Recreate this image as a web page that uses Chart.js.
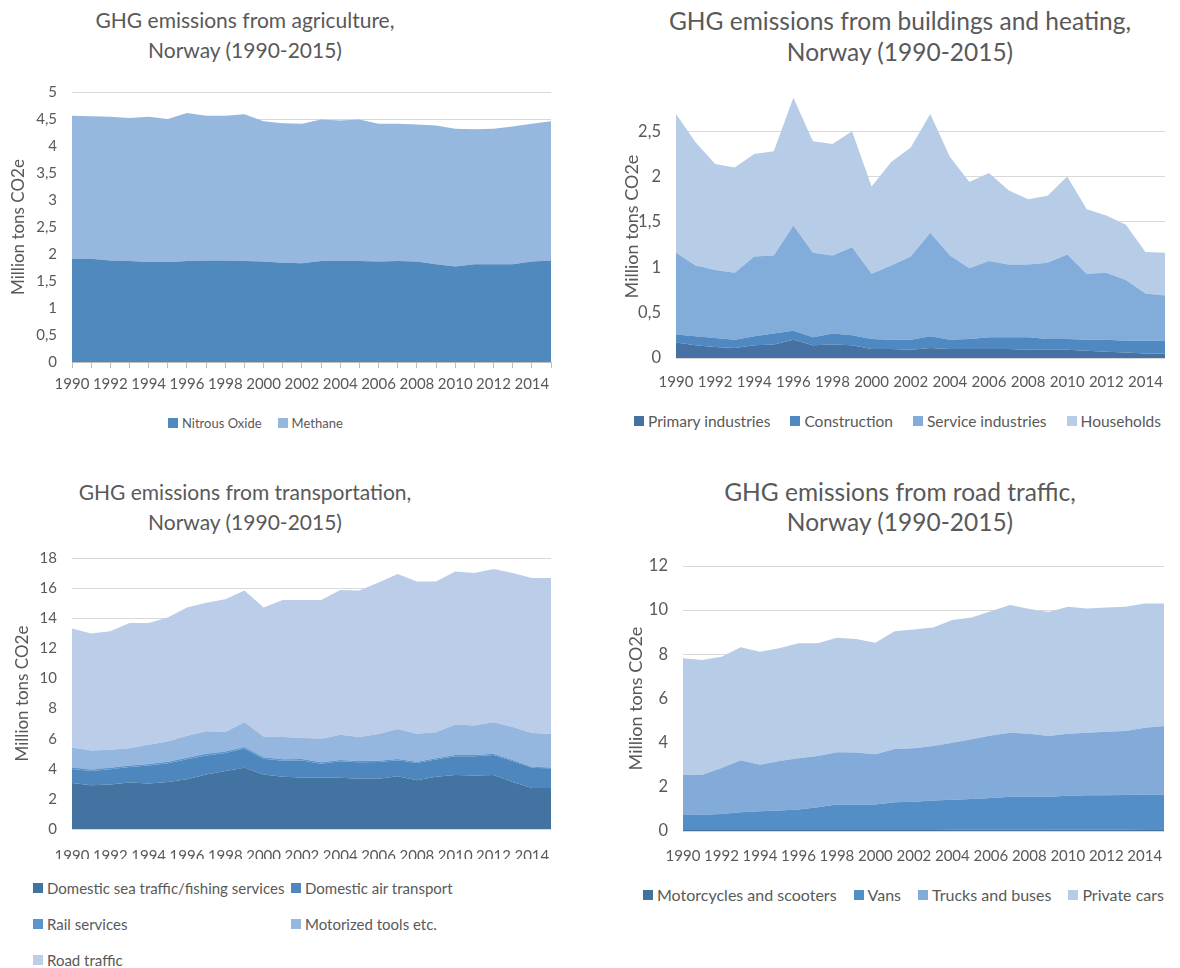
<!DOCTYPE html>
<html>
<head>
<meta charset="utf-8">
<title>GHG emissions, Norway (1990-2015)</title>
<script src="https://cdn.jsdelivr.net/npm/chart.js@4.4.1/dist/chart.umd.min.js"></script>
<style>
  html, body { margin: 0; padding: 0; background: #fff; }
  body { position: relative; width: 1180px; height: 968px; overflow: hidden; font-family: Lato, "Open Sans", sans-serif; }
  .panel { position: absolute; }
  .title { position: absolute; text-align: center; color: #595959; white-space: nowrap; line-height: 30px; }
  .legend { position: absolute; display: flex; color: #595959; white-space: nowrap; line-height: 18px; }
  .legend .item { display: flex; align-items: center; }
  .legend .swatch { width: 10px; height: 10px; margin-right: 4px; flex: none; }
  .legend.grid { display: grid; grid-template-columns: 258px auto; row-gap: 18px; }
</style>
</head>
<body>

<div class="title" style="left:0;top:5px;width:490px;font-size:21px">GHG emissions from agriculture,<br>Norway (1990-2015)</div>
<div class="panel" style="left:0;top:0;width:590px;height:392px"><canvas id="agriChart"></canvas></div>
<div class="legend" id="agriLegend" style="left:168px;top:414px;font-size:13px"></div>

<div class="title" style="left:650px;top:5px;width:500px;font-size:24.5px;line-height:31px">GHG emissions from buildings and heating,<br>Norway (1990-2015)</div>
<div class="panel" style="left:590px;top:0;width:590px;height:388px"><canvas id="buildChart"></canvas></div>
<div class="legend" id="buildLegend" style="left:634px;top:412px;font-size:15.5px"></div>

<div class="title" style="left:0;top:477px;width:490px;font-size:21px">GHG emissions from transportation,<br>Norway (1990-2015)</div>
<div class="panel" style="left:0;top:470px;width:590px;height:389px"><canvas id="transChart"></canvas></div>
<div class="legend grid" id="transLegend" style="left:33px;top:879px;font-size:15px"></div>

<div class="title" style="left:650px;top:477px;width:500px;font-size:24.5px">GHG emissions from road traffic,<br>Norway (1990-2015)</div>
<div class="panel" style="left:590px;top:470px;width:590px;height:391px"><canvas id="roadChart"></canvas></div>
<div class="legend" id="roadLegend" style="left:643px;top:886px;font-size:16px"></div>

<script>
// Years on the category axis (every other one gets a label)
const years = ['1990', '1991', '1992', '1993', '1994', '1995', '1996', '1997', '1998', '1999',
  '2000', '2001', '2002', '2003', '2004', '2005', '2006', '2007', '2008', '2009',
  '2010', '2011', '2012', '2013', '2014', '2015'];

// Agriculture (million tons CO2e)
const nitrousOxide = [1.91, 1.91, 1.88, 1.87, 1.85, 1.85, 1.87, 1.88, 1.88, 1.87, 1.86, 1.84, 1.83,
  1.87, 1.87, 1.87, 1.86, 1.87, 1.86, 1.81, 1.77, 1.81, 1.81, 1.81, 1.86, 1.88];
const methane = [2.65, 2.64, 2.66, 2.65, 2.69, 2.65, 2.74, 2.68, 2.68, 2.72, 2.60, 2.58, 2.58,
  2.62, 2.60, 2.62, 2.55, 2.54, 2.54, 2.57, 2.55, 2.50, 2.51, 2.55, 2.55, 2.58];

// Buildings and heating
const primaryIndustries = [0.17, 0.14, 0.12, 0.11, 0.14, 0.15, 0.20, 0.14, 0.15, 0.14, 0.10, 0.10, 0.09,
  0.11, 0.10, 0.10, 0.10, 0.10, 0.09, 0.09, 0.09, 0.08, 0.07, 0.06, 0.05, 0.05];
const construction = [0.09, 0.10, 0.10, 0.09, 0.10, 0.12, 0.10, 0.09, 0.12, 0.11, 0.11, 0.10, 0.11,
  0.13, 0.10, 0.11, 0.13, 0.13, 0.14, 0.12, 0.12, 0.12, 0.13, 0.13, 0.14, 0.14];
const serviceIndustries = [0.90, 0.78, 0.75, 0.74, 0.88, 0.86, 1.16, 0.93, 0.86, 0.97, 0.72, 0.82, 0.92,
  1.14, 0.93, 0.78, 0.84, 0.80, 0.80, 0.84, 0.93, 0.73, 0.74, 0.67, 0.52, 0.50];
const households = [1.53, 1.36, 1.17, 1.16, 1.13, 1.15, 1.41, 1.23, 1.23, 1.28, 0.96, 1.14, 1.20,
  1.31, 1.09, 0.95, 0.97, 0.82, 0.72, 0.74, 0.86, 0.71, 0.63, 0.61, 0.46, 0.47];

// Transportation
const seaTraffic = [3.06, 2.91, 2.95, 3.09, 3.02, 3.13, 3.31, 3.62, 3.85, 4.07, 3.62, 3.47, 3.42,
  3.42, 3.40, 3.33, 3.33, 3.51, 3.24, 3.47, 3.58, 3.56, 3.58, 3.13, 2.73, 2.73];
const airTransport = [0.93, 0.95, 1.02, 1.02, 1.20, 1.24, 1.33, 1.27, 1.20, 1.27, 1.05, 1.06, 1.13,
  0.92, 1.10, 1.10, 1.12, 1.05, 1.14, 1.15, 1.26, 1.28, 1.33, 1.38, 1.34, 1.29];
const railServices = [0.10, 0.10, 0.10, 0.10, 0.10, 0.10, 0.10, 0.10, 0.10, 0.10, 0.10, 0.10, 0.10,
  0.09, 0.09, 0.09, 0.09, 0.09, 0.09, 0.08, 0.08, 0.08, 0.08, 0.08, 0.07, 0.07];
const motorizedTools = [1.32, 1.25, 1.19, 1.16, 1.27, 1.35, 1.46, 1.50, 1.29, 1.65, 1.38, 1.48, 1.39,
  1.54, 1.67, 1.59, 1.77, 1.99, 1.86, 1.72, 2.02, 1.95, 2.10, 2.19, 2.24, 2.22];
const roadTraffic = [7.90, 7.77, 7.87, 8.32, 8.10, 8.23, 8.52, 8.54, 8.82, 8.75, 8.57, 9.10, 9.17,
  9.24, 9.62, 9.73, 10.07, 10.29, 10.11, 10.02, 10.17, 10.13, 10.18, 10.22, 10.29, 10.36];

// Road traffic
const motorcycles = [0.05, 0.05, 0.05, 0.05, 0.05, 0.05, 0.05, 0.05, 0.05, 0.05, 0.05, 0.05, 0.05,
  0.05, 0.06, 0.06, 0.06, 0.06, 0.06, 0.06, 0.07, 0.07, 0.07, 0.07, 0.08, 0.08];
const vans = [0.67, 0.69, 0.72, 0.80, 0.85, 0.88, 0.92, 1.03, 1.15, 1.15, 1.15, 1.25, 1.28,
  1.33, 1.36, 1.39, 1.44, 1.49, 1.49, 1.49, 1.53, 1.55, 1.55, 1.56, 1.57, 1.57];
const trucksBuses = [1.83, 1.81, 2.08, 2.35, 2.10, 2.24, 2.33, 2.32, 2.37, 2.35, 2.28, 2.41, 2.42,
  2.47, 2.58, 2.70, 2.83, 2.90, 2.85, 2.75, 2.80, 2.83, 2.88, 2.90, 3.03, 3.10];
const privateCars = [5.27, 5.19, 5.04, 5.12, 5.12, 5.10, 5.20, 5.10, 5.18, 5.14, 5.05, 5.34, 5.38,
  5.37, 5.55, 5.52, 5.62, 5.78, 5.65, 5.62, 5.75, 5.63, 5.62, 5.62, 5.62, 5.55];

const TEXT = '#595959';
const FONT = 'Lato, "Open Sans", sans-serif';

Chart.defaults.font.family = FONT;
Chart.defaults.color = TEXT;

// Decimal comma, as in the Norwegian originals
const commaTick = (v) => String(Number(v.toFixed(1))).replace('.', ',');

function buildStackedArea(canvasId, series, opts) {
  const ctx = document.getElementById(canvasId).getContext('2d');
  const datasets = series.map((s, i) => ({
    label: s.label,
    data: s.data,
    backgroundColor: s.color,
    borderColor: s.color,
    borderWidth: 0,
    pointRadius: 0,
    pointHoverRadius: 0,
    tension: 0,
    fill: i === 0 ? 'origin' : '-1'
  }));

  return new Chart(ctx, {
    type: 'line',
    data: { labels: years, datasets },
    options: {
      responsive: true,
      maintainAspectRatio: false,
      animation: false,
      layout: { padding: opts.padding },
      plugins: {
        legend: { display: false },
        tooltip: { enabled: false }
      },
      scales: {
        x: {
          offset: false,
          afterFit: (scale) => { scale.height = 30; },
          grid: {
            display: opts.xTicks,
            drawOnChartArea: false,
            drawTicks: opts.xTicks,
            tickLength: 6,
            color: '#bfbfbf'
          },
          border: { display: opts.xTicks, color: '#bfbfbf' },
          ticks: {
            autoSkip: false,
            maxRotation: 0,
            minRotation: 0,
            padding: opts.xPad,
            color: TEXT,
            font: { size: opts.tickSize },
            callback: (val, idx) => (idx % 2 === 0 ? years[idx] : '')
          }
        },
        y: {
          stacked: true,
          min: 0,
          max: opts.yMax,
          afterFit: (scale) => { scale.width = opts.yWidth; },
          grid: { color: '#d9d9d9', drawTicks: false },
          border: { display: false },
          title: {
            display: true,
            text: 'Million tons CO2e',
            color: TEXT,
            font: { size: opts.axisTitleSize },
            padding: 0
          },
          ticks: {
            stepSize: opts.yStep,
            includeBounds: false,
            padding: 15,
            color: TEXT,
            font: { size: opts.yTickSize },
            callback: commaTick
          }
        }
      }
    }
  });
}

function renderLegend(chart, elId, gap) {
  const el = document.getElementById(elId);
  chart.data.datasets.forEach(ds => {
    const item = document.createElement('div');
    item.className = 'item';
    item.style.marginRight = gap + 'px';
    const sw = document.createElement('span');
    sw.className = 'swatch';
    sw.style.background = ds.backgroundColor;
    const txt = document.createElement('span');
    txt.textContent = ds.label;
    item.appendChild(sw);
    item.appendChild(txt);
    el.appendChild(item);
  });
}

const agriChart = buildStackedArea('agriChart', [
  { label: 'Nitrous Oxide', data: nitrousOxide, color: '#4f89be' },
  { label: 'Methane', data: methane, color: '#96b7de' }
], {
  padding: { left: 8, right: 39, top: 92, bottom: 0 },
  yWidth: 64, yMax: 5, yStep: 0.5, xTicks: true, xPad: 7,
  tickSize: 15, yTickSize: 15, axisTitleSize: 17
});

const buildChart = buildStackedArea('buildChart', [
  { label: 'Primary industries', data: primaryIndustries, color: '#4672a3' },
  { label: 'Construction', data: construction, color: '#5089c2' },
  { label: 'Service industries', data: serviceIndustries, color: '#82acda' },
  { label: 'Households', data: households, color: '#b7cce7' }
], {
  padding: { left: 31, right: 12, top: 95, bottom: 0 },
  yWidth: 55, yMax: 2.9, yStep: 0.5, xTicks: false, xPad: 15,
  tickSize: 15, yTickSize: 16.5, axisTitleSize: 18
});

const transChart = buildStackedArea('transChart', [
  { label: 'Domestic sea traffic/fishing services', data: seaTraffic, color: '#4373a0' },
  { label: 'Domestic air transport', data: airTransport, color: '#4e87be' },
  { label: 'Rail services', data: railServices, color: '#5a95cf' },
  { label: 'Motorized tools etc.', data: motorizedTools, color: '#95b6de' },
  { label: 'Road traffic', data: roadTraffic, color: '#bccde9' }
], {
  padding: { left: 12, right: 39, top: 88, bottom: 0 },
  yWidth: 60, yMax: 18, yStep: 2, xTicks: false, xPad: 18,
  tickSize: 15, yTickSize: 15, axisTitleSize: 17
});

const roadChart = buildStackedArea('roadChart', [
  { label: 'Motorcycles and scooters', data: motorcycles, color: '#44729f' },
  { label: 'Vans', data: vans, color: '#548ec7' },
  { label: 'Trucks and buses', data: trucksBuses, color: '#82abd9' },
  { label: 'Private cars', data: privateCars, color: '#b7cce6' }
], {
  padding: { left: 35, right: 7, top: 96, bottom: 0 },
  yWidth: 58, yMax: 12, yStep: 2, xTicks: false, xPad: 16,
  tickSize: 15, yTickSize: 16.5, axisTitleSize: 18
});

renderLegend(agriChart, 'agriLegend', 16);
renderLegend(buildChart, 'buildLegend', 20);
renderLegend(transChart, 'transLegend', 0);
renderLegend(roadChart, 'roadLegend', 17);
</script>
</body>
</html>
